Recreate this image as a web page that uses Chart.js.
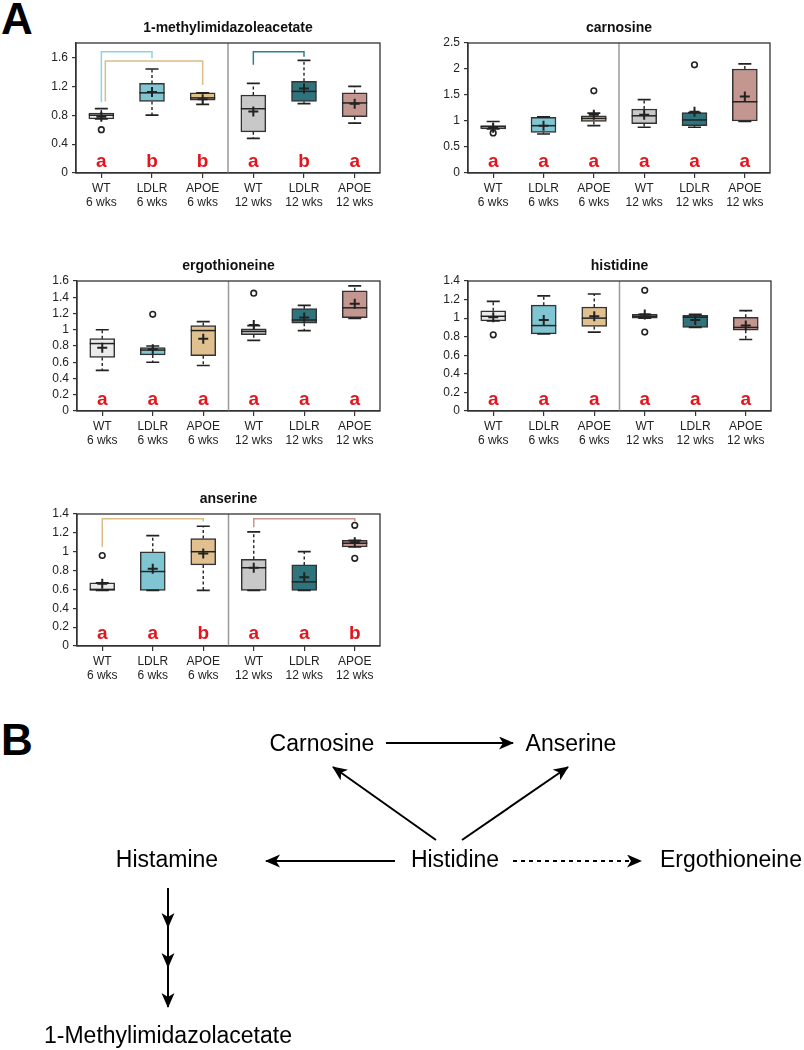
<!DOCTYPE html>
<html>
<head>
<meta charset="utf-8">
<script src="https://cdn.jsdelivr.net/npm/chart.js@4.4.0/dist/chart.umd.min.js"></script>
<style>
  body { margin: 0; background: #fff; width: 804px; height: 1050px; position: relative; overflow: hidden;
         font-family: "Liberation Sans", Arial, sans-serif; }
  canvas.panel { position: absolute; }
  .tag { position: absolute; font-weight: bold; font-size: 44px; line-height: 1; color: #000; }
  svg { position: absolute; left: 0; top: 0; }
</style>
</head>
<body>
<div class="tag" style="left:1px;top:-3px">A</div>
<div class="tag" style="left:1px;top:718px">B</div>

<script>
// ===== Data =====
const groupLabels = [["WT", "6 wks"], ["LDLR", "6 wks"], ["APOE", "6 wks"], ["WT", "12 wks"], ["LDLR", "12 wks"], ["APOE", "12 wks"]];

// each box: [low whisker, q1, median, q3, high whisker]
const miaBox = [[0.75, 0.75, 0.80, 0.83, 0.89], [0.80, 0.99, 1.11, 1.24, 1.44], [0.95, 1.01, 1.04, 1.11, 1.11],
                [0.48, 0.57, 0.89, 1.08, 1.24], [0.96, 0.99, 1.13, 1.27, 1.56], [0.69, 0.78, 0.97, 1.11, 1.20]];
const miaMean = [0.78, 1.12, 1.02, 0.85, 1.17, 0.96];
const miaOutliers = [[0.60], [], [], [], [], []];
const miaLetters = ["a", "b", "b", "a", "b", "a"];
// brackets: [from group, to group, start value, top value, end value]
const miaBrackets = [[0, 1, 0.98, 1.68, 1.59], [0, 2, 0.99, 1.55, 1.22], [3, 4, 1.50, 1.68, 1.61]];

const carBox = [[0.85, 0.85, 0.89, 0.91, 0.99], [0.75, 0.78, 0.91, 1.07, 1.08], [0.91, 0.99, 1.05, 1.10, 1.15],
                [0.88, 0.95, 1.10, 1.23, 1.41], [0.88, 0.91, 1.02, 1.16, 1.16], [0.99, 1.00, 1.37, 2.00, 2.10]];
const carMean = [0.87, 0.91, 1.12, 1.12, 1.18, 1.47];
const carOutliers = [[0.77], [], [1.58], [], [2.08], []];
const carLetters = ["a", "a", "a", "a", "a", "a"];
const carBrackets = [];

const ergBox = [[0.50, 0.66, 0.83, 0.89, 1.00], [0.60, 0.69, 0.75, 0.78, 0.80], [0.56, 0.68, 0.99, 1.05, 1.10],
                [0.87, 0.94, 0.98, 1.01, 1.05], [0.99, 1.08, 1.12, 1.26, 1.30], [1.14, 1.15, 1.27, 1.48, 1.54]];
const ergMean = [0.78, 0.76, 0.89, 1.06, 1.15, 1.32];
const ergOutliers = [[], [1.19], [], [1.45], [], []];
const ergLetters = ["a", "a", "a", "a", "a", "a"];
const ergBrackets = [];

const hisBox = [[0.97, 0.97, 1.02, 1.08, 1.18], [0.83, 0.83, 0.92, 1.14, 1.24], [0.85, 0.91, 1.00, 1.12, 1.26],
                [1.00, 1.00, 1.02, 1.04, 1.04], [0.90, 0.90, 1.01, 1.03, 1.04], [0.77, 0.87, 0.90, 1.01, 1.08]];
const hisMean = [1.01, 0.98, 1.02, 1.04, 0.98, 0.92];
const hisOutliers = [[0.82], [], [], [1.30, 0.85], [], []];
const hisLetters = ["a", "a", "a", "a", "a", "a"];
const hisBrackets = [];

const ansBox = [[0.59, 0.59, 0.60, 0.67, 0.67], [0.59, 0.59, 0.79, 1.00, 1.17], [0.59, 0.86, 1.00, 1.14, 1.27],
                [0.59, 0.59, 0.83, 0.92, 1.21], [0.59, 0.59, 0.68, 0.86, 1.00], [1.05, 1.05, 1.09, 1.12, 1.12]];
const ansMean = [0.66, 0.82, 0.98, 0.83, 0.73, 1.10];
const ansOutliers = [[0.96], [], [], [], [], [1.28, 0.93]];
const ansLetters = ["a", "a", "b", "a", "a", "b"];
const ansBrackets = [[0, 2, 1.05, 1.35, 1.32], [3, 5, 1.26, 1.35, 1.32]];

// ===== Styles =====
const FONT = '"Liberation Sans", Arial, sans-serif';
const fillColors = ["#ebebeb", "#7fc6d2", "#dfc08e", "#c8c8c8", "#2f737d", "#c3978f"];
const bracketColors = ["#999999", "#8ed4e2", "#dcbd88", "#999999", "#2e7f8a", "#c99590"];
const INK = "#222";

// ===== Panel layout (chart area in page px) =====
const panels = [
  { title: "1-methylimidazoleacetate", box: miaBox, mean: miaMean, out: miaOutliers, letters: miaLetters, brackets: miaBrackets, yMax: 1.8, step: 0.4, area: [76, 43, 380, 173] },
  { title: "carnosine", box: carBox, mean: carMean, out: carOutliers, letters: carLetters, brackets: carBrackets, yMax: 2.5, step: 0.5, area: [468, 43, 770, 173] },
  { title: "ergothioneine", box: ergBox, mean: ergMean, out: ergOutliers, letters: ergLetters, brackets: ergBrackets, yMax: 1.6, step: 0.2, area: [77, 281, 380, 411] },
  { title: "histidine", box: hisBox, mean: hisMean, out: hisOutliers, letters: hisLetters, brackets: hisBrackets, yMax: 1.4, step: 0.2, area: [468, 281, 771, 411] },
  { title: "anserine", box: ansBox, mean: ansMean, out: ansOutliers, letters: ansLetters, brackets: ansBrackets, yMax: 1.4, step: 0.2, area: [77, 514, 380, 646] },
];

const Y_AXIS_W = 46, X_AXIS_H = 52, TOP_PAD = 33, RIGHT_PAD = 10;

// ===== Box-plot extras drawn through the chart's own scales =====
function makeBoxPlugin(p) {
  return {
    id: "boxExtras",
    beforeDatasetsDraw(chart) {
      const { ctx, chartArea: a, scales: { x } } = chart;
      const mid = (x.getPixelForValue(2) + x.getPixelForValue(3)) / 2;
      ctx.save();
      ctx.strokeStyle = "#9a9a9a";
      ctx.lineWidth = 1.5;
      ctx.beginPath(); ctx.moveTo(mid, a.top); ctx.lineTo(mid, a.bottom); ctx.stroke();
      ctx.restore();
    },
    afterDatasetsDraw(chart) {
      const { ctx, chartArea: a, scales: { x, y } } = chart;
      ctx.save();
      p.box.forEach((b, i) => {
        const cx = x.getPixelForValue(i);
        const [lo, q1, med, q3, hi] = b.map(v => y.getPixelForValue(v));
        // whiskers
        ctx.strokeStyle = INK; ctx.lineWidth = 1.4;
        ctx.setLineDash([3, 2.5]);
        ctx.beginPath();
        if (hi < q3 - 1) { ctx.moveTo(cx, q3); ctx.lineTo(cx, hi); }
        if (lo > q1 + 1) { ctx.moveTo(cx, q1); ctx.lineTo(cx, lo); }
        ctx.stroke();
        ctx.setLineDash([]);
        ctx.lineWidth = 1.7;
        ctx.beginPath();
        ctx.moveTo(cx - 6.5, hi); ctx.lineTo(cx + 6.5, hi);
        ctx.moveTo(cx - 6.5, lo); ctx.lineTo(cx + 6.5, lo);
        ctx.stroke();
        // median
        ctx.lineWidth = 1.5;
        ctx.beginPath(); ctx.moveTo(cx - 12.5, med); ctx.lineTo(cx + 12.5, med); ctx.stroke();
        // mean
        const my = y.getPixelForValue(p.mean[i]);
        ctx.lineWidth = 2;
        ctx.beginPath();
        ctx.moveTo(cx - 5, my); ctx.lineTo(cx + 5, my);
        ctx.moveTo(cx, my - 5); ctx.lineTo(cx, my + 5);
        ctx.stroke();
        // outliers
        ctx.lineWidth = 1.6;
        p.out[i].forEach(v => {
          ctx.beginPath(); ctx.arc(cx, y.getPixelForValue(v), 2.8, 0, Math.PI * 2); ctx.stroke();
        });
        // group letters
        ctx.fillStyle = "#e3141c";
        ctx.font = "bold 19px " + FONT;
        ctx.textAlign = "center"; ctx.textBaseline = "middle";
        ctx.fillText(p.letters[i], cx, y.getPixelForValue(p.yMax * 0.09));
      });
      // significance brackets
      const used = {};
      p.brackets.forEach(([from, to, v0, vTop, v1]) => {
        const shift = used[from] ? 4 : 0;
        used[from] = true;
        const x0 = x.getPixelForValue(from) + shift, x1 = x.getPixelForValue(to);
        ctx.strokeStyle = bracketColors[to]; ctx.lineWidth = 1.5;
        ctx.beginPath();
        ctx.moveTo(x0, y.getPixelForValue(v0));
        ctx.lineTo(x0, y.getPixelForValue(vTop));
        ctx.lineTo(x1, y.getPixelForValue(vTop));
        ctx.lineTo(x1, y.getPixelForValue(v1));
        ctx.stroke();
      });
      // frame
      ctx.strokeStyle = "#333"; ctx.lineWidth = 1.3;
      ctx.strokeRect(a.left, a.top, a.right - a.left, a.bottom - a.top);
      // title
      ctx.fillStyle = "#111";
      ctx.font = "bold 14px " + FONT;
      ctx.textAlign = "center"; ctx.textBaseline = "middle";
      ctx.fillText(p.title, (a.left + a.right) / 2, a.top - 15);
      ctx.restore();
    }
  };
}

panels.forEach(p => {
  const [l, t, r, b] = p.area;
  const cv = document.createElement("canvas");
  cv.className = "panel";
  const left = l - Y_AXIS_W, top = t - TOP_PAD;
  cv.width = r + RIGHT_PAD - left;
  cv.height = b - t + TOP_PAD + X_AXIS_H;
  cv.style.left = left + "px";
  cv.style.top = top + "px";
  document.body.appendChild(cv);

  new Chart(cv.getContext("2d"), {
    type: "bar",
    data: {
      labels: groupLabels,
      datasets: [{
        data: p.box.map(bx => [bx[1], bx[3]]),
        backgroundColor: fillColors,
        borderColor: "#333",
        borderWidth: 1.5,
        borderSkipped: false,
        barThickness: 25
      }]
    },
    options: {
      responsive: false,
      animation: false,
      events: [],
      layout: { padding: { top: TOP_PAD, right: RIGHT_PAD, left: 0, bottom: 0 } },
      plugins: { legend: { display: false }, tooltip: { enabled: false }, title: { display: false } },
      scales: {
        x: {
          type: "category",
          offset: true,
          grid: { display: true, drawOnChartArea: false, drawTicks: true, tickLength: 5, offset: false, color: "#333", lineWidth: 1.2 },
          border: { display: true, color: "#333", width: 1.3 },
          ticks: { color: INK, font: { size: 12, family: FONT }, padding: 3, maxRotation: 0, autoSkip: false },
          afterFit: s => { s.height = X_AXIS_H; }
        },
        y: {
          min: 0,
          max: p.yMax,
          grid: { drawOnChartArea: false, drawTicks: true, tickLength: 4, color: "#333", lineWidth: 1.2 },
          border: { display: true, color: "#333", width: 1.3 },
          ticks: {
            stepSize: p.step,
            includeBounds: false,
            autoSkip: false,
            color: INK,
            font: { size: 12, family: FONT },
            padding: 4,
            callback: v => String(+v.toFixed(2))
          },
          afterFit: s => { s.width = Y_AXIS_W; }
        }
      }
    },
    plugins: [makeBoxPlugin(p)]
  });
});
</script>

<svg width="804" height="1050" xmlns="http://www.w3.org/2000/svg" style="pointer-events:none">
  <defs>
    <marker id="head" markerUnits="userSpaceOnUse" markerWidth="16" markerHeight="14" refX="14" refY="6.5" orient="auto">
      <path d="M0,0 L15,6.5 L0,13 L4,6.5 Z" fill="#000"/>
    </marker>
  </defs>
  <g font-family="Liberation Sans, Arial, sans-serif" font-size="23" fill="#000" text-anchor="middle" dominant-baseline="central">
    <text x="322" y="743">Carnosine</text>
    <text x="571" y="743">Anserine</text>
    <text x="167" y="859">Histamine</text>
    <text x="455" y="859">Histidine</text>
    <text x="731" y="859">Ergothioneine</text>
    <text x="168" y="1035">1-Methylimidazolacetate</text>
  </g>
  <g stroke="#000" stroke-width="2" fill="none">
    <line x1="386" y1="743" x2="513" y2="743" marker-end="url(#head)"/>
    <line x1="436" y1="840" x2="333" y2="767" marker-end="url(#head)"/>
    <line x1="462" y1="840" x2="568" y2="767" marker-end="url(#head)"/>
    <line x1="395" y1="861" x2="266" y2="861" marker-end="url(#head)"/>
    <line x1="513" y1="861" x2="641" y2="861" stroke-dasharray="4,4" marker-end="url(#head)"/>
    <line x1="168" y1="888" x2="168" y2="927" marker-end="url(#head)"/>
    <line x1="168" y1="927" x2="168" y2="967" marker-end="url(#head)"/>
    <line x1="168" y1="967" x2="168" y2="1007" marker-end="url(#head)"/>
  </g>
</svg>
</body>
</html>
